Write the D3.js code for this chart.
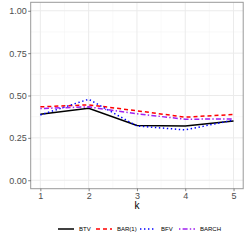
<!DOCTYPE html>
<html>
<head>
<meta charset="utf-8">
<script src="https://cdn.jsdelivr.net/npm/d3@7"></script>
<style>
  body { margin: 0; background: #fff; }
  svg { display: block; font-family: "Liberation Sans", Arial, sans-serif; }
</style>
</head>
<body>
<div id="chart"></div>
<script>
// données
const kValues = [1, 2, 3, 4, 5];
const btv   = [0.390, 0.425, 0.323, 0.320, 0.350];
const bar1  = [0.433, 0.445, 0.410, 0.372, 0.388];
const bfv   = [0.385, 0.478, 0.320, 0.297, 0.355];
const barch = [0.423, 0.433, 0.392, 0.360, 0.362];
const seriesNames = ["BTV", "BAR(1)", "BFV", "BARCH"];
const yTicks = [0, 0.25, 0.5, 0.75, 1];

const series = [
    {name: seriesNames[0], values: btv,   color: "#000000", dash: null},
    {name: seriesNames[1], values: bar1,  color: "#FF0000", dash: "4,3"},
    {name: seriesNames[2], values: bfv,   color: "#0000FF", dash: "1.4,2.6"},
    {name: seriesNames[3], values: barch, color: "#A020F0", dash: "1.4,2.2,5,2.2"}
];

const width = 245;
const height = 245;
const panel = {left: 30.7, right: 243.2, top: 2.3, bottom: 188.7};

const svg = d3.select("#chart")
    .append("svg")
    .attr("width", width)
    .attr("height", height);

// échelles (expansion ggplot de 5 %)
const scaleX = d3.scaleLinear()
    .domain([0.8, 5.2])
    .range([panel.left, panel.right]);

const scaleY = d3.scaleLinear()
    .domain([-0.05, 1.05])
    .range([panel.bottom, panel.top]);

// grille mineure
const minorX = [1.5, 2.5, 3.5, 4.5];
const minorY = [0.125, 0.375, 0.625, 0.875];

svg.append("g").selectAll("line")
    .data(minorX)
    .join("line")
    .attr("x1", d => scaleX(d)).attr("x2", d => scaleX(d))
    .attr("y1", panel.top).attr("y2", panel.bottom)
    .attr("stroke", "#F5F5F5").attr("stroke-width", 0.6);

svg.append("g").selectAll("line")
    .data(minorY)
    .join("line")
    .attr("y1", d => scaleY(d)).attr("y2", d => scaleY(d))
    .attr("x1", panel.left).attr("x2", panel.right)
    .attr("stroke", "#F5F5F5").attr("stroke-width", 0.6);

// grille majeure
svg.append("g").selectAll("line")
    .data(kValues)
    .join("line")
    .attr("x1", d => scaleX(d)).attr("x2", d => scaleX(d))
    .attr("y1", panel.top).attr("y2", panel.bottom)
    .attr("stroke", "#EBEBEB").attr("stroke-width", 1);

svg.append("g").selectAll("line")
    .data(yTicks)
    .join("line")
    .attr("y1", d => scaleY(d)).attr("y2", d => scaleY(d))
    .attr("x1", panel.left).attr("x2", panel.right)
    .attr("stroke", "#EBEBEB").attr("stroke-width", 1);

// lignes
const line = d3.line()
    .x((d, i) => scaleX(kValues[i]))
    .y(d => scaleY(d));

svg.append("g").selectAll("path")
    .data(series)
    .join("path")
    .attr("d", d => line(d.values))
    .attr("fill", "none")
    .attr("stroke", d => d.color)
    .attr("stroke-width", 1.5)
    .attr("stroke-dasharray", d => d.dash);

// bordure du panneau
svg.append("rect")
    .attr("x", panel.left).attr("y", panel.top)
    .attr("width", panel.right - panel.left)
    .attr("height", panel.bottom - panel.top)
    .attr("fill", "none")
    .attr("stroke", "#999999")
    .attr("stroke-width", 1);

// axes
const xAxis = svg.append("g")
    .attr("transform", `translate(0, ${panel.bottom})`)
    .call(d3.axisBottom(scaleX).tickValues(kValues).tickFormat(d3.format("d")).tickSize(2.5).tickPadding(1.2));

const yAxis = svg.append("g")
    .attr("transform", `translate(${panel.left}, 0)`)
    .call(d3.axisLeft(scaleY).tickValues(yTicks).tickFormat(d3.format(".2f")).tickSize(2.5).tickPadding(1.5));

[xAxis, yAxis].forEach(g => {
    g.select(".domain").remove();
    g.selectAll(".tick line").attr("stroke", "#333333").attr("stroke-width", 0.6);
    g.selectAll("text")
        .attr("fill", "#4D4D4D")
        .style("font-size", "9px")
        .style("font-family", "Liberation Sans, Arial, sans-serif");
});

// titre axe X
svg.append("text")
    .attr("x", (panel.left + panel.right) / 2)
    .attr("y", 208.5)
    .attr("text-anchor", "middle")
    .attr("fill", "#000")
    .style("font-size", "10px")
    .text("k");

// légende
const legendX = [58, 96, 140, 179];
const legend = svg.append("g").selectAll("g")
    .data(series)
    .join("g")
    .attr("transform", (d, i) => `translate(${legendX[i]}, 229)`);

legend.append("line")
    .attr("x1", 0).attr("x2", 16)
    .attr("stroke", d => d.color)
    .attr("stroke-width", 1.5)
    .attr("stroke-dasharray", d => d.dash);

legend.append("text")
    .attr("x", 21)
    .attr("y", 2.2)
    .attr("fill", "#000")
    .style("font-size", "6px")
    .text(d => d.name);
</script>
</body>
</html>
